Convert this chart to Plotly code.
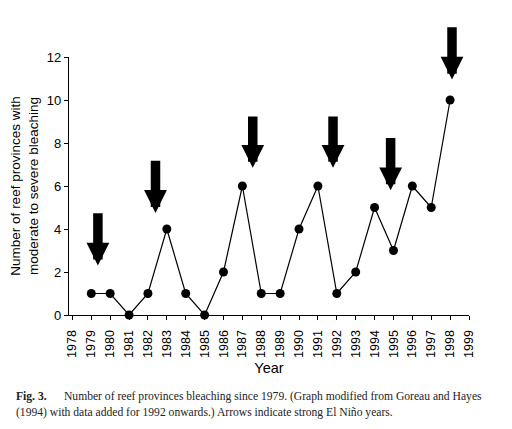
import plotly.graph_objects as go

# bleaching counts per year
years = [1979, 1980, 1981, 1982, 1983, 1984, 1985, 1986, 1987, 1988,
         1989, 1990, 1991, 1992, 1993, 1994, 1995, 1996, 1997, 1998]
provinces = [1, 1, 0, 1, 4, 1, 0, 2, 6, 1, 1, 4, 6, 1, 2, 5, 3, 6, 5, 10]

# El Nino arrows (x position, top of shaft, tip)
arrow_x = [1979.35, 1982.4, 1987.55, 1991.8, 1994.85, 1998.1]
arrow_top = [4.8, 7.25, 9.3, 9.3, 8.3, 13.45]
arrow_tip = [2.3, 4.75, 6.85, 6.85, 5.8, 10.95]

tick_years = list(range(1978, 2000))

caption_1 = ('<b>Fig. 3.</b>      Number of reef provinces bleaching since 1979. '
             '(Graph modified from Goreau and Hayes')
caption_2 = '(1994) with data added for 1992 onwards.) Arrows indicate strong El Niño years.'

# page body has an 8px margin, so the figure is a bit smaller than the window
W, H = 504, 421
L, R, T, B = 61, 43, 49, 114
plot_w, plot_h = W - L - R, H - T - B

fig = go.Figure()

fig.add_trace(go.Scatter(
    x=years, y=provinces,
    mode='lines+markers',
    line=dict(color='black', width=1.2),
    marker=dict(color='black', size=9),
    cliponaxis=False,
    showlegend=False
))

for ax_, top, tip in zip(arrow_x, arrow_top, arrow_tip):
    fig.add_annotation(
        x=ax_, y=tip, ax=ax_, ay=top,
        xref='x', yref='y', axref='x', ayref='y',
        text='', showarrow=True,
        arrowhead=2, arrowsize=0.48, arrowwidth=9.5, arrowcolor='black'
    )

fig.update_layout(
    width=W, height=H,
    margin=dict(l=L, r=R, t=T, b=B),
    paper_bgcolor='white', plot_bgcolor='white',
    font=dict(family='Liberation Sans, Arial', color='black'),
    xaxis=dict(
        range=[1977.82, 1999], tickmode='array', tickvals=tick_years,
        ticktext=[str(y) for y in tick_years], tickangle=-90,
        ticks='outside', ticklen=4, tickcolor='black', tickwidth=1,
        showline=True, linecolor='black', linewidth=1.2,
        showgrid=False, zeroline=False, tickfont=dict(size=12.5),
        ticklabelstandoff=5, automargin=False,
        title=dict(text='Year', font=dict(size=14.5), standoff=5)
    ),
    yaxis=dict(
        range=[0, 12], tickvals=[0, 2, 4, 6, 8, 10, 12],
        ticks='outside', ticklen=4, tickcolor='black', tickwidth=1,
        showline=True, linecolor='black', linewidth=1.2,
        showgrid=False, zeroline=False, tickfont=dict(size=13),
        automargin=False,
        title=dict(text='Number of reef provinces with<br>moderate to severe bleaching',
                   font=dict(size=13.5), standoff=6)
    )
)

# caption lines, placed by pixel position inside the figure
cap_font = dict(family='Liberation Serif', size=11.6, color='#222')
for text, py in [(caption_1, 388), (caption_2, 404)]:
    fig.add_annotation(
        x=(6 - L) / plot_w, y=(H - B - py) / plot_h,
        xref='paper', yref='paper', showarrow=False,
        xanchor='left', yanchor='middle', font=cap_font, text=text
    )

fig.write_html("out.html")
